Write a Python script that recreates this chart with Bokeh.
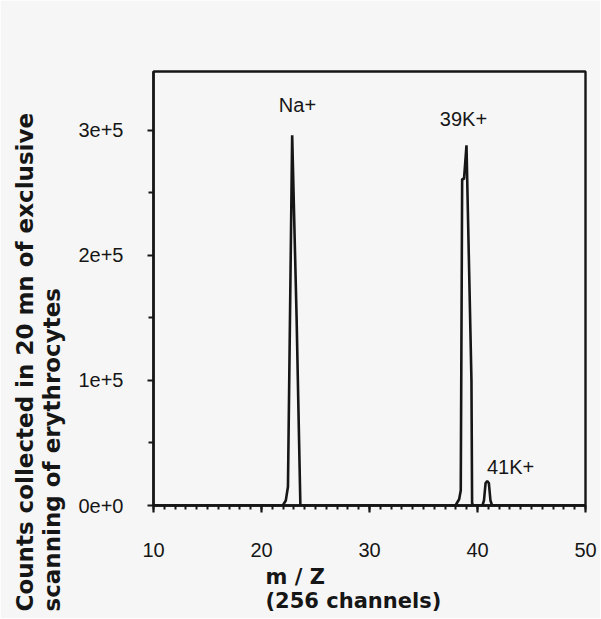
from bokeh.plotting import figure
from bokeh.models import FixedTicker, Label, Range1d, Title
from bokeh.embed import file_html
from bokeh.resources import INLINE

# ---- data ----
mz = [10.0, 21.97, 22.25, 22.45, 22.84, 23.25, 23.6,
      37.96, 38.3, 38.45, 38.58, 38.75, 38.98, 39.44, 39.5, 39.58,
      40.46, 40.6, 40.75, 40.9, 41.05, 41.2, 41.35, 50.0]
counts = [0, 0, 4000, 15000, 296000, 150000, 0,
          0, 5000, 12000, 261000, 261000, 288000, 100000, 2000, 0,
          0, 4000, 18000, 19500, 18000, 4000, 0, 0]

peak_names = ["Na+", "39K+", "41K+"]
peak_label_x = [23.33, 38.7, 43.06]
peak_label_y = [320000, 309000, 30400]

x_ticks = [10, 20, 30, 40, 50]
x_minor = list(range(10, 51))
y_ticks = [0, 100000, 200000, 300000]
y_tick_labels = ["0e+0", "1e+5", "2e+5", "3e+5"]
y_minor = [50000, 150000, 250000]

x_title = "m / Z\n(256 channels)"
y_title = "Counts collected in 20 mn of exclusive\nscanning of erythrocytes"

INK = "#161616"
BG = "#f6f6f6"

p = figure(width=600, height=618, output_backend="svg", toolbar_location=None,
           x_range=Range1d(10, 50), y_range=Range1d(0, 347000),
           min_border_left=153, min_border_right=15, min_border_top=71,
           min_border_bottom=113)
p.background_fill_color = BG
p.border_fill_color = BG
p.outline_line_color = INK
p.outline_line_width = 2.4
p.grid.visible = False

p.line(mz, counts, line_color=INK, line_width=2.6)

for ax in (p.xaxis[0], p.yaxis[0]):
    ax.axis_line_color = INK
    ax.axis_line_width = 2.4
    ax.major_tick_line_color = INK
    ax.major_tick_line_width = 2.2
    ax.minor_tick_line_color = INK
    ax.minor_tick_line_width = 2
    ax.major_tick_in = 0
    ax.minor_tick_in = 0
    ax.major_label_text_font = "Liberation Sans"
    ax.major_label_text_font_size = "20px"
    ax.major_label_text_color = INK

xa = p.xaxis[0]
xa.ticker = FixedTicker(ticks=x_ticks, minor_ticks=x_minor)
xa.major_tick_out = 7
xa.minor_tick_out = 4
xa.major_label_standoff = 30

ya = p.yaxis[0]
ya.ticker = FixedTicker(ticks=y_ticks, minor_ticks=y_minor)
ya.major_label_overrides = {t: s for t, s in zip(y_ticks, y_tick_labels)}
ya.major_tick_out = 6
ya.minor_tick_out = 5
ya.major_label_standoff = 24

for name, lx, ly in zip(peak_names, peak_label_x, peak_label_y):
    p.add_layout(Label(x=lx, y=ly, text=name, text_align="center",
                       text_baseline="middle", text_font="Liberation Sans",
                       text_font_size="20px", text_color=INK))

p.add_layout(Title(text=x_title, align="left", offset=112, standoff=6,
                   text_font="DejaVu Sans", text_font_style="bold",
                   text_font_size="21px", text_color=INK,
                   text_line_height=1.0), "below")

p.add_layout(Title(text=y_title, align="left", offset=-106, standoff=20,
                   text_font="DejaVu Sans", text_font_style="bold",
                   text_font_size="23px", text_color=INK,
                   text_line_height=1.05), "left")

open("out.html", "w").write(file_html(p, INLINE))
